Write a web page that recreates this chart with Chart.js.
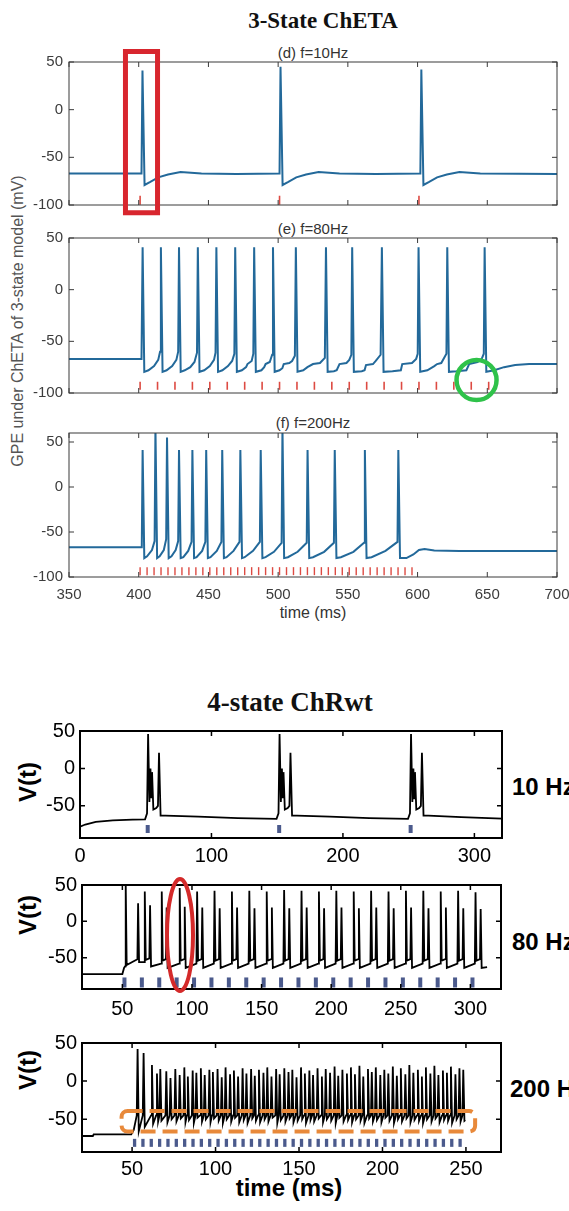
<!DOCTYPE html>
<html>
<head>
<meta charset="utf-8">
<script src="https://cdn.jsdelivr.net/npm/chart.js@4.4.0/dist/chart.umd.min.js"></script>
<style>
html, body { margin: 0; padding: 0; background: #fff; overflow: hidden; }
body { width: 569px; height: 1211px; position: relative; }
canvas { position: absolute; left: 0; }
.lbl { position: absolute; white-space: nowrap; transform: translate(-50%, -50%); font-family: "Liberation Sans", Arial, sans-serif; }
.ttl { font-family: "Liberation Serif", "Times New Roman", serif; font-weight: bold; color: #111; }
.sub { font-size: 15px; color: #333; }
.vt { font-size: 24px; font-weight: bold; transform: translate(-50%, -50%) rotate(-90deg); }
.hz { position: absolute; white-space: nowrap; transform: translateY(-50%); font-family: "Liberation Sans", Arial, sans-serif; font-size: 24px; font-weight: bold; }
</style>
</head>
<body>

<div class="lbl ttl" style="left:323px;top:21px;font-size:23px;">3-State ChETA</div>
<div class="lbl sub" style="left:313px;top:52px;">(d) f=10Hz</div>
<div class="lbl sub" style="left:313px;top:228px;">(e) f=80Hz</div>
<div class="lbl sub" style="left:313px;top:422px;">(f) f=200Hz</div>
<div class="lbl" style="left:18px;top:321px;font-size:16px;color:#555;transform:translate(-50%,-50%) rotate(-90deg);">GPE under ChETA of 3-state model (mV)</div>
<div class="lbl" style="left:313px;top:613px;font-size:16px;color:#333;">time (ms)</div>

<div class="lbl ttl" style="left:290px;top:702px;font-size:27px;">4-state ChRwt</div>
<div class="lbl vt" style="left:28px;top:782px;">V(t)</div>
<div class="lbl vt" style="left:28px;top:915px;">V(t)</div>
<div class="lbl vt" style="left:28px;top:1070px;">V(t)</div>
<div class="hz" style="left:512px;top:787px;">10 Hz</div>
<div class="hz" style="left:512px;top:942px;">80 Hz</div>
<div class="hz" style="left:510px;top:1089px;">200 Hz</div>
<div class="lbl" style="left:289px;top:1188px;font-size:24px;font-weight:bold;">time (ms)</div>

<script>
// ---------- data: 3-state ChETA (top) ----------
const topTicksX = [350, 400, 450, 500, 550, 600, 650, 700];
const topTicksY = [-100, -50, 0, 50];

const dStim = [400, 500, 600];
const dTrace = [
  [350, -67], [402, -67], [402.7, 41], [404.2, -79], [408, -76], [414, -71], [421, -68], [430, -65.5], [445, -67], [470, -67.5],
  [501, -67], [501.7, 45], [503.2, -79], [507, -76], [513, -71], [520, -68], [529, -65.5], [544, -67], [570, -67.5],
  [602, -67], [602.7, 42], [604.2, -79], [608, -76], [614, -71], [621, -68], [630, -65.5], [645, -67], [700, -67.5]
];

const eStim = [400, 412.5, 425, 437.5, 450, 462.5, 475, 487.5, 500, 512.5, 525, 537.5, 550, 562.5, 575, 587.5, 600, 612.5, 625, 637.5, 650];
const eTrace = [
  [350, -67], [402, -67], [402.8, 41], [404, -79.5], [407, -78], [411, -74], [414, -68], [415.3, -60],
  [415.9, 41], [417.1, -79.5], [420, -78], [424, -74], [427, -68], [428.3, -60],
  [428.9, 41], [430.1, -79.5], [433, -78], [437, -75], [440, -70], [441.8, -61],
  [442.4, 41], [443.6, -79.5], [447, -78], [451, -74], [454, -68], [455.1, -61],
  [455.7, 41], [456.9, -79.5], [460, -78], [464, -74], [467, -69], [468.6, -62],
  [469.2, 41], [470.4, -79.5], [474, -78], [477, -75], [478, -72], [481, -69], [482.2, -62],
  [482.8, 41], [484, -79.5], [488, -78], [490, -75], [491, -72], [494, -70], [495.7, -63],
  [496.3, 41], [497.5, -79.5], [501, -78], [503, -76], [504, -72], [508, -71], [510, -69], [512, -64],
  [512.7, 41], [513.9, -79.5], [518, -78], [521, -75], [525, -72], [530, -71], [533.5, -66],
  [534.3, 41], [535.5, -79.5], [540, -79], [542, -78], [544, -72], [549, -71], [551, -68], [552.5, -63],
  [553.1, 41], [554.3, -79.5], [560, -79], [562, -78], [563, -73], [568, -72], [570, -69], [573.5, -63],
  [574.4, 41], [575.6, -79.5], [582, -79], [588, -78], [589, -72], [596, -71], [599, -67], [600.1, -62],
  [600.7, 41], [601.9, -79.5], [607, -78], [612, -74], [614, -72], [617, -71], [620.7, -62],
  [621.3, 41], [622.5, -79.5], [628, -79], [635, -78], [637, -72], [643, -70], [646, -67], [647.5, -62],
  [648.1, 41], [649.3, -79.5], [655, -78], [662, -75], [670, -73], [680, -72], [700, -72]
];

const fStim = [400, 405, 410, 415, 420, 425, 430, 435, 440, 445, 450, 455, 460, 465, 470, 475, 480, 485, 490, 495,
  500, 505, 510, 515, 520, 525, 530, 535, 540, 545, 550, 555, 560, 565, 570, 575, 580, 585, 590, 595];
const fTrace = [
  [350, -67], [402.2, -67], [402.8, 41], [404, -79], [406, -77], [409.5, -70], [411.4, -60],
  [412, 66], [413.2, -79], [415, -77], [418, -70], [419.7, -58],
  [420.3, 55], [421.5, -79], [423.5, -77], [426.5, -70], [428.3, -60],
  [428.9, 41], [430.1, -79], [432, -78], [435.5, -71], [437.9, -61],
  [438.5, 41], [439.7, -79], [441.5, -78], [445.5, -71], [447.8, -61],
  [448.4, 41], [449.6, -79], [451.5, -78], [456, -71], [459.3, -61],
  [459.9, 41], [461.1, -79], [463, -78], [468, -71], [472.3, -61],
  [472.9, 41], [474.1, -79], [476, -78], [482, -71], [486.9, -61],
  [487.5, 41], [488.7, -79], [491, -78], [497, -72], [502.5, -62],
  [503.1, 66], [504.3, -79], [507, -78], [514, -72], [520.5, -62],
  [521.1, 41], [522.3, -79], [525, -78], [533, -72], [540, -62],
  [540.6, 41], [541.8, -79], [545, -78], [554, -72], [561.6, -62],
  [562.2, 41], [563.4, -79], [567, -78], [577, -71], [585.6, -61],
  [586.2, 41], [587.4, -79], [592, -79], [597, -75], [601, -70], [605, -69], [612, -70.5], [630, -71], [700, -71]
];

// ---------- data: 4-state ChRwt (bottom) ----------
const botTicksY = [-50, 0, 50];
const r10TicksX = [0, 100, 200, 300];
const r80TicksX = [50, 100, 150, 200, 250, 300];
const r200TicksX = [50, 100, 150, 200, 250];

const r10Stim = [50, 150, 250];
const r10Trace = [
  [0, -78], [4, -75], [12, -71.5], [25, -69.5], [40, -68.5], [49.5, -68],
  [51, -60], [51.8, 46], [52.8, -45], [53.6, 0], [54.2, -40], [54.8, -5], [55.8, -55], [58, -53], [59.3, -50], [60.1, 21], [61.3, -63],
  [65, -63], [90, -64.5], [120, -66.5], [149.5, -67.5],
  [151, -60], [151.8, 46], [152.8, -45], [153.6, 0], [154.2, -40], [154.8, -5], [155.8, -55], [158, -53], [159.3, -50], [160.1, 21], [161.3, -63],
  [165, -63], [190, -64.5], [220, -66.5], [249.5, -67.5],
  [251, -60], [251.8, 46], [252.8, -45], [253.6, 0], [254.2, -40], [254.8, -5], [255.8, -55], [258, -53], [259.3, -50], [260.1, 21], [261.3, -63],
  [265, -63], [290, -65], [321, -67]
];

const r80Stim = [50, 62.5, 75, 87.5, 100, 112.5, 125, 137.5, 150, 162.5, 175, 187.5, 200, 212.5, 225, 237.5, 250, 262.5, 275, 287.5, 300];
const r80Head = [[21, -72.5], [50, -72.5], [51.2, -64]];
const r80SpikeT = [52.4, 61.3, 66.1, 69.9, 78.3, 81.8, 91.2, 94.8, 103.7, 107.4, 116.2, 119.9, 128.7, 132.4, 141.2, 144.9,
  153.7, 157.4, 166.2, 169.9, 178.7, 182.4, 191.2, 194.9, 203.7, 207.4, 216.2, 219.9, 228.7, 232.4, 241.2, 244.9,
  253.7, 257.4, 266.2, 269.9, 278.7, 282.4, 291.2, 294.9, 303.7, 307.4];
const r80Peak = [52, 25, 41, 22, 41, 19, 46, 20, 41, 19, 42, 18, 41, 19, 42, 18,
  41, 19, 43, 18, 42, 19, 41, 18, 42, 19, 41, 18, 42, 19, 41, 18,
  42, 19, 42, 18, 41, 19, 42, 18, 40, 17];
const r80Pre = [-62, -52, -56, -51, -58, -52, -58, -52, -58, -52, -58, -52, -58, -52, -58, -52,
  -58, -52, -58, -52, -58, -52, -58, -52, -58, -52, -58, -52, -58, -52, -58, -52,
  -58, -52, -58, -52, -58, -52, -58, -52, -58, -52];
const r80Post = [-60, -56, -53, -62, -54, -64, -54, -64, -54, -64, -54, -64, -54, -64, -54, -64,
  -54, -64, -54, -64, -54, -64, -54, -64, -54, -64, -54, -64, -54, -64, -54, -64,
  -54, -64, -54, -64, -54, -64, -54, -64, -54, -64];
const r80Tail = [[312, -63]];

const r200Stim = [50, 55, 60, 65, 70, 75, 80, 85, 90, 95, 100, 105, 110, 115, 120, 125, 130, 135, 140, 145,
  150, 155, 160, 165, 170, 175, 180, 185, 190, 195, 200, 205, 210, 215, 220, 225, 230, 235, 240, 245];
const r200Head = [[20, -72], [26.5, -72], [27, -70], [49.5, -70], [51, -64]];
const r200SpikeT = [53.3, 56.9, 61.9, 64.9, 66.9, 70.5, 73.0, 75.9, 78.5, 81.3,
  83.4, 86.3, 88.5, 91.2, 93.5, 96.3, 98.4, 101.2, 103.7, 106.0,
  108.7, 111.0, 113.5, 116.2, 118.5, 121.3, 123.5, 126.0, 128.7, 131.0,
  133.5, 136.3, 138.4, 141.2, 143.7, 146.0, 148.5, 151.2, 153.5, 156.2,
  158.4, 161.1, 163.7, 166.0, 168.6, 171.3, 173.5, 176.0, 178.7, 181.1,
  183.5, 186.2, 188.5, 191.3, 193.6, 196.0, 198.7, 201.1, 203.5, 206.2,
  208.6, 211.0, 213.7, 216.1, 218.5, 221.2, 223.6, 226.0, 228.7, 231.1,
  233.5, 236.2, 238.6, 241.0, 243.7, 246.1, 248.4];
const r200Peak = [42, 37, 21, 10, 16, 13, 4, 16, 8, 18,
  6, 14, 11, 17, 8, 15, 12, 16, 5, 18,
  9, 14, 6, 17, 10, 16, 7, 15, 11, 18,
  6, 16, 9, 17, 12, 15, 5, 18, 10, 14,
  8, 17, 6, 16, 11, 19, 7, 15, 10, 18,
  9, 20, 6, 16, 12, 18, 8, 15, 10, 19,
  7, 17, 9, 21, 11, 15, 6, 18, 10, 20,
  8, 14, 11, 19, 9, 17, 15];
const r200Pre = -45;
const r200Post = [-66, -60, -56, -53, -52, -54, -50, -53, -49, -54,
  -51, -55, -48, -53, -50, -54, -49, -52, -55, -50,
  -53, -48, -54, -51, -55, -49, -52, -54, -50, -53,
  -48, -55, -51, -53, -49, -54, -52, -50, -55, -51,
  -53, -49, -54, -50, -52, -55, -48, -53, -51, -54,
  -50, -52, -55, -49, -53, -51, -54, -48, -52, -55,
  -50, -53, -49, -54, -51, -52, -55, -50, -53, -49,
  -54, -51, -52, -55, -50, -53, -52];
const r200Tail = [[249.6, -51]];

// ---------- helpers ----------
const W = 620;
const SANS = '"Liberation Sans", Arial, sans-serif';

function pairs(list) { return list.map(([x, y]) => ({ x, y })); }

function spikeTrace(head, t, peak, pre, post, tail) {
  const pts = pairs(head);
  t.forEach((s, i) => {
    const p0 = Array.isArray(pre) ? pre[i] : pre;
    pts.push({ x: s - 0.5, y: p0 }, { x: s, y: peak[i] }, { x: s + 0.7, y: post[i] });
  });
  return pts.concat(pairs(tail));
}

function traceSet(points, color, width) {
  return { data: points, showLine: true, borderColor: color, borderWidth: width, pointRadius: 0, tension: 0, order: 2 };
}

function stimSet(times, shift, level, color, halfLen, width) {
  return {
    data: times.map(t => ({ x: t + shift, y: level })), showLine: false,
    pointStyle: 'line', rotation: 90, pointRadius: halfLen, borderWidth: width,
    borderColor: color, backgroundColor: color, order: 1
  };
}

const framePlugin = {
  id: 'frame',
  afterDraw(chart, args, o) {
    const { ctx, chartArea: a, scales: { x, y } } = chart;
    ctx.save();
    ctx.strokeStyle = o.color;
    ctx.lineWidth = o.tickWidth;
    ctx.beginPath();
    x.ticks.forEach(t => {
      const px = x.getPixelForValue(t.value);
      ctx.moveTo(px, a.bottom); ctx.lineTo(px, a.bottom - o.tick);
      ctx.moveTo(px, a.top); ctx.lineTo(px, a.top + o.tick);
    });
    y.ticks.forEach(t => {
      const py = y.getPixelForValue(t.value);
      ctx.moveTo(a.left, py); ctx.lineTo(a.left + o.tick, py);
      ctx.moveTo(a.right, py); ctx.lineTo(a.right - o.tick, py);
    });
    ctx.stroke();
    ctx.lineWidth = o.width;
    ctx.strokeRect(a.left, a.top, a.right - a.left, a.bottom - a.top);

    (o.shapes || []).forEach(s => {
      ctx.strokeStyle = s.color;
      ctx.lineWidth = s.width;
      ctx.setLineDash(s.dash || []);
      ctx.beginPath();
      if (s.type === 'rect' || s.type === 'rrect') {
        const x0 = x.getPixelForValue(s.x0), x1 = x.getPixelForValue(s.x1);
        const y0 = y.getPixelForValue(s.y0), y1 = y.getPixelForValue(s.y1);
        if (s.type === 'rect') ctx.rect(x0, y0, x1 - x0, y1 - y0);
        else ctx.roundRect(x0, y0, x1 - x0, y1 - y0, s.r);
      } else {
        const cx = x.getPixelForValue(s.x), cy = y.getPixelForValue(s.y);
        ctx.ellipse(cx, cy, s.rx, s.ry, 0, 0, Math.PI * 2);
      }
      ctx.stroke();
    });
    ctx.restore();
  }
};

function panel(o) {
  const cv = document.createElement('canvas');
  const h = o.canvas[1] - o.canvas[0];
  cv.width = W; cv.height = h;
  cv.style.top = o.canvas[0] + 'px';
  cv.style.width = W + 'px'; cv.style.height = h + 'px';
  document.body.appendChild(cv);
  const [bl, bt, br, bb] = o.box;
  const fixTicks = arr => s => { s.ticks = arr.map(v => ({ value: v })); };
  new Chart(cv, {
    type: 'scatter',
    data: { datasets: o.datasets },
    options: {
      responsive: false, animation: false, events: [],
      layout: { padding: { left: 0, top: bt - o.canvas[0], right: W - br, bottom: 0 } },
      plugins: { legend: { display: false }, tooltip: { enabled: false }, frame: o.frame },
      scales: {
        x: {
          type: 'linear', min: o.xr[0], max: o.xr[1],
          afterBuildTicks: fixTicks(o.xt),
          afterFit: s => { s.height = o.canvas[1] - bb; },
          grid: { display: false, drawTicks: false }, border: { display: false },
          ticks: { display: o.xLabels, font: { family: SANS, size: o.fontSize }, color: o.fontColor, padding: o.xPad, maxRotation: 0, autoSkip: false }
        },
        y: {
          type: 'linear', min: o.yr[0], max: o.yr[1],
          afterBuildTicks: fixTicks(o.yt),
          afterFit: s => { s.width = bl; },
          grid: { display: false, drawTicks: false }, border: { display: false },
          ticks: { font: { family: SANS, size: o.fontSize }, color: o.fontColor, padding: o.yPad, autoSkip: false }
        }
      }
    },
    plugins: [framePlugin]
  });
}

// ---------- top: 3-state ChETA ----------
const BLUE = '#23699a';
const RED_STIM = '#dd4a42';
const topFrame = shapes => ({ color: '#3a3a3a', width: 1, tick: 5, tickWidth: 1, shapes });
const topBase = { xr: [350, 700], xt: topTicksX, yt: topTicksY, fontSize: 15, fontColor: '#3c3c3c', xPad: 9, yPad: 6 };

panel(Object.assign({}, topBase, {
  canvas: [40, 232], box: [69, 62, 557, 205], yr: [-100, 50], xLabels: false,
  datasets: [traceSet(pairs(dTrace), BLUE, 2), stimSet(dStim, 1, -95, RED_STIM, 4.5, 1.6)],
  frame: topFrame([{ type: 'rect', x0: 390.5, x1: 413.5, y0: 61, y1: -108, color: '#d8262e', width: 5 }])
}));

panel(Object.assign({}, topBase, {
  canvas: [218, 410], box: [69, 238, 557, 393], yr: [-100, 50], xLabels: false,
  datasets: [traceSet(pairs(eTrace), BLUE, 2), stimSet(eStim, 1, -93, RED_STIM, 4, 1.6)],
  frame: topFrame([{ type: 'ellipse', x: 642.3, y: -87.5, rx: 20, ry: 20, color: '#2fc24a', width: 4.5 }])
}));

panel(Object.assign({}, topBase, {
  canvas: [416, 612], box: [69, 433, 557, 577], yr: [-100, 60], xLabels: true,
  datasets: [traceSet(pairs(fTrace), BLUE, 2), stimSet(fStim, 1, -93.5, RED_STIM, 4, 1.4)],
  frame: topFrame([])
}));

// ---------- bottom: 4-state ChRwt ----------
const BLACK = '#000';
const STIM_BLUE = '#4b5a8c';
const botFrame = shapes => ({ color: '#000', width: 2, tick: 5, tickWidth: 1.5, shapes });
const botBase = { yt: botTicksY, yr: [-93, 50], fontSize: 20, fontColor: '#000', xLabels: true, yPad: 5 };

panel(Object.assign({}, botBase, {
  canvas: [712, 872], box: [80, 731, 502, 838], xr: [0, 321], xt: r10TicksX, xPad: 6,
  datasets: [traceSet(pairs(r10Trace), BLACK, 1.8), stimSet(r10Stim, 1.5, -81, STIM_BLUE, 4, 4)],
  frame: botFrame([])
}));

panel(Object.assign({}, botBase, {
  canvas: [866, 1025], box: [82, 885, 501, 989], xr: [21, 322], xt: r80TicksX, xPad: 8,
  datasets: [traceSet(spikeTrace(r80Head, r80SpikeT, r80Peak, r80Pre, r80Post, r80Tail), BLACK, 1.8),
             stimSet(r80Stim, 1.5, -84, STIM_BLUE, 5, 4)],
  frame: botFrame([{ type: 'ellipse', x: 91.4, y: -18.8, rx: 13, ry: 56, color: '#d42a2a', width: 4 }])
}));

panel(Object.assign({}, botBase, {
  canvas: [1025, 1180], box: [82, 1043, 501, 1152], xr: [20, 271], xt: r200TicksX, xPad: 5,
  datasets: [traceSet(spikeTrace(r200Head, r200SpikeT, r200Peak, r200Pre, r200Post, r200Tail), BLACK, 1.8),
             stimSet(r200Stim, 1.5, -81, STIM_BLUE, 4, 3.3)],
  frame: botFrame([{ type: 'rrect', x0: 43.7, x1: 255.5, y0: -39.2, y1: -66.1, r: 6, dash: [15, 7], color: '#e8893a', width: 4 }])
}));
</script>
</body>
</html>
